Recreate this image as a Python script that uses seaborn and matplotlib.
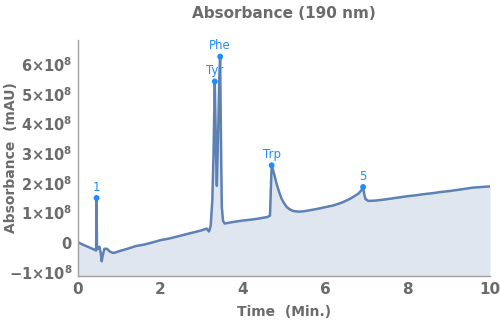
import matplotlib
matplotlib.use("Agg")
import matplotlib.pyplot as plt
from matplotlib.ticker import MultipleLocator, FixedLocator, FixedFormatter
import numpy as np
import pandas as pd
import seaborn as sns

# Chromatogram trace: retention time (min) and absorbance (units of 1e8 mAU)
time_min = [0.00, 0.10, 0.20, 0.30, 0.40, 0.44, 0.45, 0.46, 0.49, 0.52, 0.55, 0.575,
            0.60, 0.64, 0.70, 0.78, 0.85, 0.90, 1.00, 1.20, 1.40, 1.60, 1.80, 2.00,
            2.20, 2.40, 2.60, 2.80, 3.00, 3.12, 3.18, 3.22, 3.26, 3.29, 3.32, 3.35,
            3.37, 3.40, 3.43, 3.45, 3.47, 3.49, 3.52, 3.56, 3.60, 3.80, 4.00, 4.20,
            4.40, 4.60, 4.66, 4.70, 4.76, 4.82, 4.88, 4.94, 5.00, 5.07, 5.15, 5.23,
            5.35, 5.47, 5.60, 5.80, 6.00, 6.20, 6.40, 6.60, 6.80, 6.88, 6.92, 6.95,
            6.98, 7.05, 7.20, 7.40, 7.60, 7.80, 8.00, 8.20, 8.40, 8.60, 8.80, 9.00,
            9.20, 9.40, 9.60, 9.80, 10.00]
absorbance_e8 = [0.00, -0.07, -0.13, -0.19, -0.25, -0.28, 1.49, -0.12, -0.22, -0.15, -0.35, -0.64,
                 -0.45, -0.22, -0.22, -0.32, -0.36, -0.35, -0.30, -0.22, -0.13, -0.08, -0.01, 0.07,
                 0.12, 0.19, 0.26, 0.33, 0.40, 0.46, 0.36, 0.55, 1.40, 3.00, 5.41, 3.00,
                 1.90, 3.60, 5.60, 6.25, 3.50, 1.20, 0.72, 0.63, 0.64, 0.69, 0.73, 0.76,
                 0.80, 0.85, 0.90, 2.59, 2.30, 1.97, 1.70, 1.47, 1.32, 1.18, 1.10, 1.05,
                 1.03, 1.04, 1.07, 1.12, 1.18, 1.24, 1.33, 1.46, 1.63, 1.75, 1.86, 1.60,
                 1.45, 1.39, 1.40, 1.43, 1.47, 1.51, 1.55, 1.58, 1.62, 1.65, 1.69, 1.72,
                 1.76, 1.80, 1.84, 1.86, 1.88]

# Labelled peaks
peak_labels = ["1", "Tyr", "Phe", "Trp", "5"]
peak_time = [0.45, 3.32, 3.45, 4.70, 6.92]
peak_height_e8 = [1.49, 5.41, 6.25, 2.59, 1.86]

# Axis ticks
x_ticks = [0, 2, 4, 6, 8, 10]
y_ticks_e8 = [-1, 0, 1, 2, 3, 4, 5, 6]
y_tick_labels = [r"$\mathbf{-1{\times}10^{8}}$", r"$\mathbf{0}$",
                 r"$\mathbf{1{\times}10^{8}}$", r"$\mathbf{2{\times}10^{8}}$",
                 r"$\mathbf{3{\times}10^{8}}$", r"$\mathbf{4{\times}10^{8}}$",
                 r"$\mathbf{5{\times}10^{8}}$", r"$\mathbf{6{\times}10^{8}}$"]

SCALE = 1e8
trace = pd.DataFrame({"t": time_min, "a": np.array(absorbance_e8) * SCALE})
peaks = pd.DataFrame({"t": peak_time, "a": np.array(peak_height_e8) * SCALE, "label": peak_labels})

sns.set_style("white")
plt.rcParams["font.family"] = ["DejaVu Sans"]
plt.rcParams["mathtext.fontset"] = "dejavusans"

LINE = "#5e81b5"
FILL = "#dfe6f0"
MARK = "#1e8cff"
GREY = "#6b6b6b"
AXIS = "#a0a0a0"

fig = plt.figure(figsize=(5.0, 3.22), dpi=100)
ax = fig.add_axes([0.156, 0.143, 0.824, 0.733])

ymin, ymax = -1.135 * SCALE, 6.81 * SCALE
ax.fill_between(trace["t"], trace["a"], ymin, color=FILL, linewidth=0, zorder=1)
sns.lineplot(data=trace, x="t", y="a", ax=ax, color=LINE, linewidth=1.8,
             estimator=None, sort=False, zorder=2)
sns.scatterplot(data=peaks, x="t", y="a", ax=ax, color=MARK, s=18,
                edgecolor="none", zorder=3)
for _, r in peaks.iterrows():
    ax.annotate(r["label"], (r["t"], r["a"]), xytext=(0, 3), textcoords="offset points",
                ha="center", va="bottom", color=MARK, fontsize=8.5, zorder=4)

ax.set_xlim(0, 10)
ax.set_ylim(ymin, ymax)

ax.xaxis.set_major_locator(FixedLocator(x_ticks))
ax.xaxis.set_minor_locator(MultipleLocator(0.5))
ax.yaxis.set_major_locator(FixedLocator([v * SCALE for v in y_ticks_e8]))
ax.yaxis.set_major_formatter(FixedFormatter(y_tick_labels))
ax.yaxis.set_minor_locator(MultipleLocator(0.2 * SCALE))

ax.tick_params(which="both", direction="in", color=AXIS, width=0.8)
ax.tick_params(which="major", length=4, labelcolor=GREY, pad=4)
ax.tick_params(axis="x", which="major", labelsize=11)
ax.tick_params(axis="y", which="major", labelsize=10.5)
ax.tick_params(which="minor", length=2.2)
for lab in ax.get_xticklabels() + ax.get_yticklabels():
    lab.set_fontweight("bold")

for side in ("top", "right"):
    ax.spines[side].set_visible(False)
for side in ("left", "bottom"):
    ax.spines[side].set_color(AXIS)
    ax.spines[side].set_linewidth(1.0)

ax.set_xlabel("Time  (Min.)", fontsize=10, fontweight="bold", color=GREY, labelpad=6)
ax.set_ylabel("Absorbance  (mAU)", fontsize=10, fontweight="bold", color=GREY)
ax.yaxis.set_label_coords(-0.145, 0.5)
ax.set_title("Absorbance (190 nm)", fontsize=11, fontweight="bold", color=GREY, pad=16)

fig.savefig("out.png", dpi=100)
